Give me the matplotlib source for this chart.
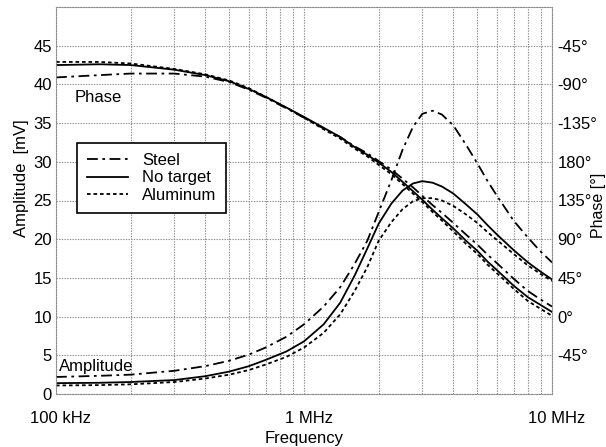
import matplotlib
matplotlib.use("Agg")
import matplotlib.pyplot as plt
import numpy as np
from matplotlib.ticker import FixedLocator, NullFormatter, LogLocator
from matplotlib.transforms import ScaledTranslation

plt.rcParams["font.family"] = ["Liberation Sans", "DejaVu Sans"]

# frequencies in Hz
freq = [1e5, 1.5e5, 2e5, 3e5, 4e5, 5e5, 6e5, 7e5, 8.5e5, 1e6,
        1.2e6, 1.4e6, 1.6e6, 1.8e6, 2e6, 2.25e6, 2.5e6, 2.75e6, 3e6, 3.3e6,
        3.6e6, 4e6, 4.5e6, 5e6, 5.5e6, 6e6, 7e6, 8e6, 9e6, 1e7]

# amplitude curves [mV]
amp_steel = [2.2, 2.35, 2.5, 3.0, 3.6, 4.3, 5.1, 6.0, 7.4, 9.0,
             11.3, 13.8, 16.8, 19.8, 23.5, 27.6, 31.6, 34.5, 36.2, 36.6,
             36.1, 34.7, 32.2, 29.8, 27.5, 25.6, 22.4, 20.2, 18.4, 17.0]
amp_none = [1.4, 1.45, 1.55, 1.8, 2.3, 2.9, 3.6, 4.4, 5.5, 6.8,
            9.0, 11.8, 15.3, 18.8, 22.0, 24.6, 26.3, 27.2, 27.5, 27.3,
            26.8, 25.9, 24.5, 23.2, 21.8, 20.6, 18.6, 17.0, 15.8, 14.8]
amp_alu = [1.1, 1.15, 1.25, 1.55, 2.0, 2.5, 3.1, 3.8, 4.8, 6.0,
           7.9, 10.3, 13.3, 16.4, 19.8, 22.2, 23.9, 24.9, 25.3, 25.3,
           25.0, 24.3, 23.2, 22.1, 20.9, 19.9, 18.1, 16.6, 15.5, 14.6]

# phase curves, drawn on the amplitude scale (5 units = 45 deg)
ph_steel = [40.9, 41.2, 41.4, 41.4, 41.0, 40.3, 39.3, 38.3, 36.9, 35.7,
            34.3, 33.2, 32.0, 31.1, 30.1, 29.0, 27.8, 26.7, 25.6, 24.4,
            23.4, 22.1, 20.6, 19.3, 18.0, 16.9, 14.9, 13.3, 12.2, 11.3]
ph_none = [42.5, 42.6, 42.5, 41.9, 41.2, 40.4, 39.4, 38.4, 37.0, 35.8,
           34.4, 33.2, 31.9, 30.9, 29.9, 28.7, 27.4, 26.2, 25.1, 23.8,
           22.7, 21.4, 19.8, 18.5, 17.1, 16.0, 14.0, 12.5, 11.5, 10.6]
ph_alu = [42.9, 42.9, 42.7, 42.0, 41.3, 40.5, 39.5, 38.4, 37.0, 35.7,
          34.2, 33.0, 31.7, 30.7, 29.6, 28.4, 27.1, 25.9, 24.8, 23.5,
          22.4, 21.0, 19.4, 18.1, 16.7, 15.6, 13.6, 12.0, 11.0, 10.1]

phase_ticks = [5, 10, 15, 20, 25, 30, 35, 40, 45]
phase_labels = ["-45°", "0°", "45°", "90°", "135°", "180°", "-135°", "-90°", "-45°"]

STEEL = (0, (6, 2.5, 1.5, 2.5))
ALU = (0, (2, 1.6))
GRID = dict(color="#8c8c8c", linestyle=(0, (1.2, 1.2)), linewidth=0.8)

fig = plt.figure(figsize=(6.06, 4.47), dpi=100)
ax = fig.add_axes([56 / 606, 1 - 394 / 447, 496 / 606, 387 / 447])

for amp, ph, ls, label in [(amp_steel, ph_steel, STEEL, "Steel"),
                           (amp_none, ph_none, "-", "No target"),
                           (amp_alu, ph_alu, ALU, "Aluminum")]:
    ax.plot(freq, amp, color="black", linestyle=ls, linewidth=1.3, label=label)
    ax.plot(freq, ph, color="black", linestyle=ls, linewidth=1.3)

ax.set_xscale("log")
ax.set_xlim(1e5, 1e7)
ax.set_ylim(0, 50)
ax.set_xticks([1e5, 1e6, 1e7])
ax.set_xticklabels(["100 kHz", "1 MHz", "10 MHz"])
ax.xaxis.set_minor_locator(LogLocator(base=10, subs=np.arange(2, 10)))
ax.xaxis.set_minor_formatter(NullFormatter())
ax.set_yticks([0, 5, 10, 15, 20, 25, 30, 35, 40, 45])
ax.tick_params(axis="x", which="both", length=0, labelsize=12, pad=12)
ax.tick_params(axis="y", which="both", length=0, labelsize=12, pad=3)
ax.grid(True, which="both", axis="x", **GRID)
ax.grid(True, which="major", axis="y", **GRID)
for sp in ax.spines.values():
    sp.set_color("#8c8c8c")
    sp.set_linestyle((0, (1.2, 1.2)))
    sp.set_linewidth(0.8)

# x tick labels sit a little right of their grid lines in the original
shift = ScaledTranslation(5 / 100, 0, fig.dpi_scale_trans)
for lab in ax.get_xticklabels():
    lab.set_transform(lab.get_transform() + shift)

ax.set_xlabel("Frequency", fontsize=12, labelpad=4)
ax.set_ylabel("Amplitude  [mV]", fontsize=12)
ax.yaxis.set_label_coords(-0.054, 0.558)

ax2 = ax.twinx()
ax2.set_ylim(0, 50)
ax2.yaxis.set_major_locator(FixedLocator(phase_ticks))
ax2.set_yticklabels(phase_labels)
ax2.tick_params(axis="y", length=0, labelsize=12, pad=4)
for sp in ax2.spines.values():
    sp.set_visible(False)
fig.text(598.5 / 606, 1 - 205 / 447, "Phase [°]", fontsize=11.5, rotation=90,
         ha="center", va="center")

ax.text(1.19e5, 38.3, "Phase", fontsize=12, va="center", ha="left")
ax.text(1.03e5, 3.6, "Amplitude", fontsize=12, va="center", ha="left")

leg = ax.legend(loc="upper left", bbox_to_anchor=(0.042, 0.649), borderaxespad=0,
                fontsize=12, handlelength=2.5, fancybox=False, framealpha=1,
                edgecolor="black", labelspacing=0.15, borderpad=0.6)
leg.get_frame().set_linewidth(1.2)

fig.savefig("out.png", dpi=100)
